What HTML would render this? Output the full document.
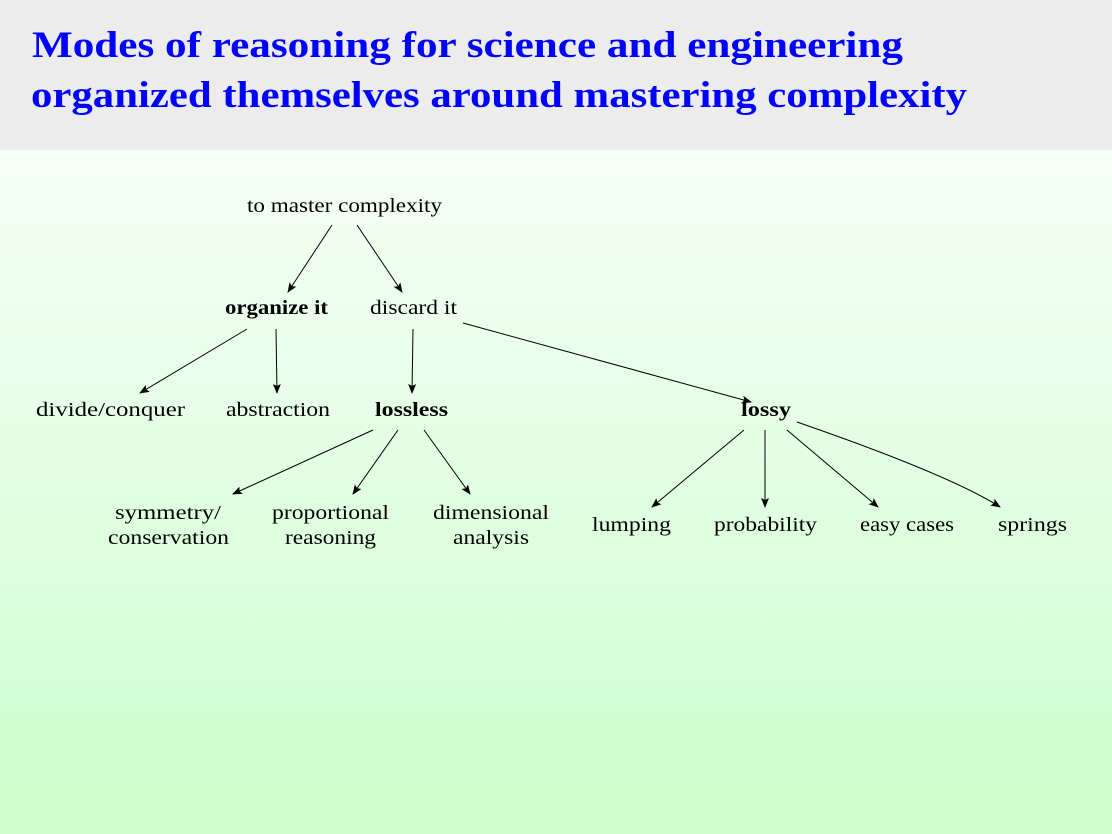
<!DOCTYPE html>
<html><head><meta charset="utf-8"><style>
html,body{margin:0;padding:0;width:1112px;height:834px;overflow:hidden}
body{background:linear-gradient(#f6fff6 150px,#ccffcc 834px)}
</style></head><body>
<svg width="1112" height="834" xmlns="http://www.w3.org/2000/svg" style="position:absolute;left:0;top:0">
<defs>
<linearGradient id="g" x1="0" y1="0" x2="0" y2="1"><stop offset="0" stop-color="#f6fff6"/><stop offset="1" stop-color="#ccffcc"/></linearGradient>
<marker id="a" markerWidth="10" markerHeight="8" refX="9" refY="4" orient="auto" markerUnits="userSpaceOnUse"><path d="M0,0 L10,4 L0,8 L2,4 Z" fill="#000"/></marker>
</defs>
<rect x="0" y="150" width="1112" height="684" fill="url(#g)"/>
<rect x="0" y="0" width="1112" height="150" fill="#ececec"/>
<g font-family="Liberation Serif, serif" font-weight="bold" fill="#0000ff" font-size="37">
<text x="32" y="57" textLength="871" lengthAdjust="spacingAndGlyphs">Modes of reasoning for science and engineering</text>
<text x="31" y="107" textLength="936" lengthAdjust="spacingAndGlyphs">organized themselves around mastering complexity</text>
</g>
<g font-family="Liberation Serif, serif" font-size="20" fill="#000" lengthAdjust="spacingAndGlyphs">
<text x="247" y="212" textLength="195" lengthAdjust="spacingAndGlyphs">to master complexity</text>
<text x="225" y="314" font-weight="bold" textLength="103" lengthAdjust="spacingAndGlyphs">organize it</text>
<text x="370" y="314" textLength="87" lengthAdjust="spacingAndGlyphs">discard it</text>
<text x="36" y="416" textLength="149" lengthAdjust="spacingAndGlyphs">divide/conquer</text>
<text x="226" y="416" textLength="104" lengthAdjust="spacingAndGlyphs">abstraction</text>
<text x="375" y="416" font-weight="bold" textLength="73" lengthAdjust="spacingAndGlyphs">lossless</text>
<text x="741" y="416" font-weight="bold" textLength="50" lengthAdjust="spacingAndGlyphs">lossy</text>
<text x="115" y="519" textLength="106" lengthAdjust="spacingAndGlyphs">symmetry/</text>
<text x="108" y="544" textLength="121" lengthAdjust="spacingAndGlyphs">conservation</text>
<text x="272" y="519" textLength="117" lengthAdjust="spacingAndGlyphs">proportional</text>
<text x="285" y="544" textLength="91" lengthAdjust="spacingAndGlyphs">reasoning</text>
<text x="433" y="519" textLength="116" lengthAdjust="spacingAndGlyphs">dimensional</text>
<text x="453" y="544" textLength="76" lengthAdjust="spacingAndGlyphs">analysis</text>
<text x="592" y="531" textLength="79" lengthAdjust="spacingAndGlyphs">lumping</text>
<text x="714" y="531" textLength="103" lengthAdjust="spacingAndGlyphs">probability</text>
<text x="860" y="531" textLength="94" lengthAdjust="spacingAndGlyphs">easy cases</text>
<text x="998" y="531" textLength="69" lengthAdjust="spacingAndGlyphs">springs</text>
</g>
<g stroke="#000" stroke-width="1" fill="none" marker-end="url(#a)">
<line x1="332" y1="225" x2="288" y2="292"/>
<line x1="357" y1="225" x2="402" y2="292"/>
<line x1="247" y1="329" x2="140" y2="393"/>
<line x1="276" y1="329" x2="277" y2="393"/>
<line x1="413" y1="329" x2="412" y2="393"/>
<line x1="463" y1="323" x2="751" y2="402"/>
<line x1="373" y1="430" x2="233" y2="494"/>
<line x1="398" y1="430" x2="353" y2="494"/>
<line x1="424" y1="430" x2="470" y2="494"/>
<line x1="744" y1="430" x2="652" y2="507"/>
<line x1="765" y1="430" x2="765" y2="507"/>
<line x1="787" y1="430" x2="878" y2="507"/>
<path d="M797,422 Q950,475 1000,507"/>
</g>
</svg>
</body></html>
